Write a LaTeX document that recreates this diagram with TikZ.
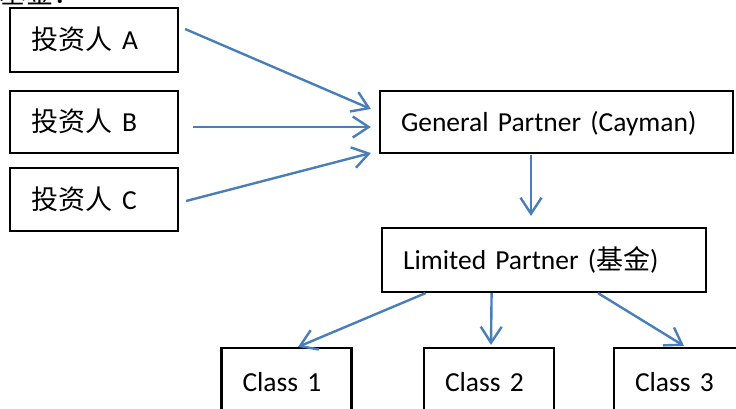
\documentclass[tikz,border=0pt]{standalone}
\usepackage{fontspec}
\setmainfont{Carlito}
\newfontfamily\cjk{Noto Sans CJK SC}
\usetikzlibrary{arrows.meta,calc}
\definecolor{arrowblue}{HTML}{4A7EBB}
\tikzset{
  box/.style={draw=black, line width=2.2pt, inner xsep=21pt, inner ysep=0pt,
    align=left, text height=24pt, text depth=5pt,
    font=\fontsize{27.5}{33}\selectfont},
  link/.style={draw=arrowblue, line width=2.4pt,
    -{Straight Barb[length=16pt,width=21pt]}}
}
\begin{document}
\begin{tikzpicture}[x=1pt,y=-1pt]
\useasboundingbox (0,0) rectangle (736,408);
\clip (0,0) rectangle (736,408);
\node[anchor=base west, inner sep=0pt, font=\fontsize{27}{30}\selectfont\cjk] (title) at (-1,3) {基金：};
\node[box, minimum width=168pt, minimum height=64pt, text width=126pt] (A) at (94,40) {{\cjk\fontsize{27}{30}\selectfont 投资人}\hspace{10pt}A};
\node[box, minimum width=168pt, minimum height=62pt, text width=126pt] (B) at (94,122) {{\cjk\fontsize{27}{30}\selectfont 投资人}\hspace{10pt}B};
\node[box, minimum width=168pt, minimum height=63pt, text width=126pt] (C) at (94,199.5) {{\cjk\fontsize{27}{30}\selectfont 投资人}\hspace{10pt}C};
\node[box, minimum width=353pt, minimum height=62pt, text width=311pt] (GP) at (556.5,122) {General Partner (Cayman)};
\node[box, minimum width=324pt, minimum height=64pt, text width=282pt] (LP) at (544,260) {Limited Partner ({\cjk\fontsize{27}{30}\selectfont 基金})};
\node[box, minimum width=130pt, minimum height=67pt, text width=88pt] (C1) at (286.5,381.5) {Class 1};
\node[box, minimum width=130pt, minimum height=67pt, text width=88pt] (C2) at (489,381.5) {Class 2};
\node[box, minimum width=130pt, minimum height=67pt, text width=88pt] (C3) at (679,381.5) {Class 3};
\draw[link] ($(A.east)+(6,-11)$) -- ($(GP.west)+(-8,-13)$);
\draw[link] ($(B.east)+(14,5)$) -- ($(GP.west)+(-8,5)$);
\draw[link] ($(C.east)+(7,1.5)$) -- ($(GP.west)+(-8,31)$);
\draw[link] ($(GP.south)+(-25.5,1)$) -- ($(LP.north)+(-13,-11)$);
\draw[link] ($(LP.south)+(-118.4,0)$) -- ($(C1.north)+(11.5,0)$);
\draw[link] ($(LP.south)+(-52.4,0)$) -- ($(C2.north)+(2,-2)$);
\draw[link] ($(LP.south)+(54,0)$) -- ($(C3.north)+(5,-1)$);
\end{tikzpicture}
\end{document}
